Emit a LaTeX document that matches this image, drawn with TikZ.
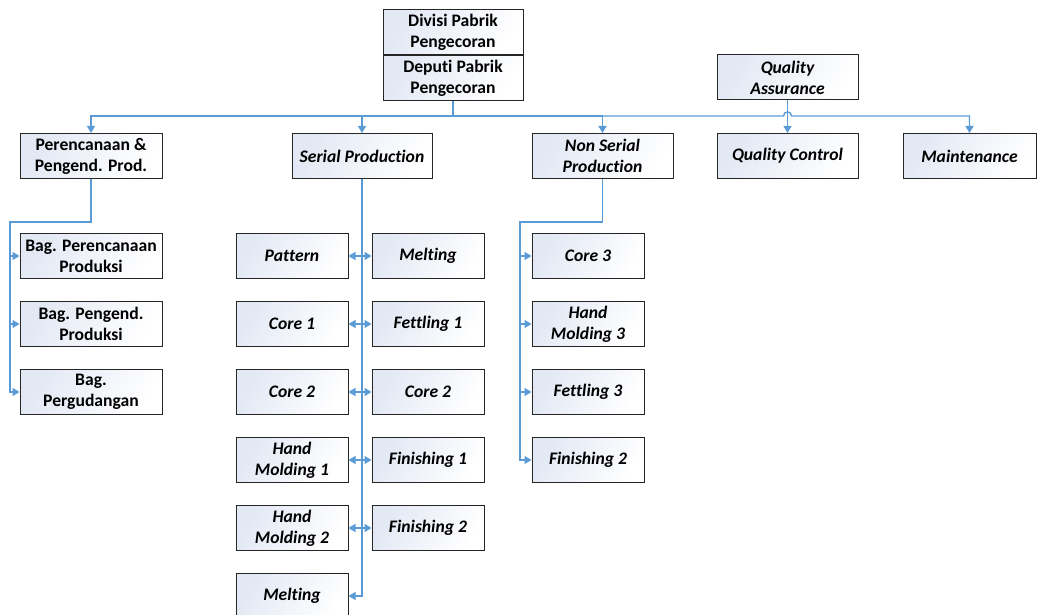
\documentclass[tikz,border=0pt]{standalone}
\usepackage{fontspec}
\setmainfont{Carlito}[Ligatures=NoCommon]
\usepackage{xcolor}
\usetikzlibrary{arrows.meta, positioning}

\definecolor{linkblue}{HTML}{5B9BD5}
\definecolor{boxfill}{HTML}{E2E8F4}

\begin{document}
\begin{tikzpicture}[
    x=1pt, y=-1pt,
    node distance=22pt and 23pt,
    unit/.style={draw=black!85, line width=1pt, rectangle, align=center,
        minimum width=141pt, minimum height=45pt, inner sep=1pt,
        left color=boxfill, right color=white, shading angle=60,
        font=\fontsize{17.6}{21}\selectfont\bfseries},
    sub/.style={unit, minimum width=112pt, font=\fontsize{17.6}{21}\selectfont\bfseries\itshape},
    ital/.style={unit, font=\fontsize{17.6}{21}\selectfont\bfseries\itshape},
    link/.style={draw=linkblue, line width=1.4pt},
    arr/.style={link, -{Triangle[length=7pt, width=8pt]}},
    biarr/.style={link, {Triangle[length=7pt, width=8pt]}-{Triangle[length=7pt, width=8pt]}}
]
    \useasboundingbox (0,0) rectangle (1038,615);

    % Top level
    \node[unit, minimum width=140pt] (divisi) at (453,32.5) {Divisi Pabrik\\Pengecoran};
    \node[unit, minimum width=140pt, below=0pt of divisi] (deputi) {Deputi Pabrik\\Pengecoran};
    \node[ital] (qa) at (787.5,77.5) {Quality\\Assurance};

    % Departments
    \node[unit, minimum width=142pt] (perenc) at (91,156) {Perencanaan \&\\Pengend. Prod.};
    \node[ital, minimum width=140pt] (serial) at (362,156) {Serial Production};
    \node[ital] (nonserial) at (602.5,156) {Non Serial\\Production};
    \node[ital] (qc) at (787.5,156) {Quality Control};
    \node[ital, minimum width=133pt] (maint) at (969.5,156) {Maintenance};

    % Perencanaan sections
    \node[unit, minimum width=142pt] (bagrenc) at (91,256) {Bag. Perencanaan\\Produksi};
    \node[unit, minimum width=142pt, below=of bagrenc] (bagdal) {Bag. Pengend.\\Produksi};
    \node[unit, minimum width=142pt, below=of bagdal] (baggudang) {Bag.\\Pergudangan};

    % Serial production, left column
    \node[sub] (pattern) at (292,256) {Pattern};
    \node[sub, below=of pattern] (core1) {Core 1};
    \node[sub, below=of core1] (core2a) {Core 2};
    \node[sub, below=of core2a] (hmold1) {Hand\\Molding 1};
    \node[sub, below=of hmold1] (hmold2) {Hand\\Molding 2};
    \node[sub, below=of hmold2] (meltb) {Melting};

    % Serial production, right column
    \node[sub, right=of pattern] (melta) {Melting};
    \node[sub, right=of core1] (fettl1) {Fettling 1};
    \node[sub, right=of core2a] (core2b) {Core 2};
    \node[sub, right=of hmold1] (fin1) {Finishing 1};
    \node[sub, right=of hmold2] (fin2a) {Finishing 2};

    % Non serial production
    \node[sub] (core3) at (588,256) {Core 3};
    \node[sub, below=of core3] (hmold3) {Hand\\Molding 3};
    \node[sub, below=of hmold3] (fettl3) {Fettling 3};
    \node[sub, below=of fettl3] (fin2b) {Finishing 2};

    % Bus under the deputy
    \coordinate (bus) at (453,116);
    \draw[link] (deputi.south) -- (bus);
    \draw[arr] (bus) -| (perenc.north);
    \draw[arr] (bus) -| (serial.north);
    \draw[arr] (bus) -| (nonserial.north);
    \draw[arr] (bus) -- (783.5,116) .. controls (783.5,110.5) and (791.5,110.5) .. (791.5,116) -| (maint.north);
    \draw[arr] (qa.south) -- (qc.north);

    % Perencanaan branch
    \coordinate (pl) at (10,222);
    \draw[link] (perenc.south) |- (pl) -- (pl |- bagdal.west);
    \draw[arr] (pl |- bagdal.west) |- (baggudang.west);
    \foreach \n in {bagrenc, bagdal}
        \draw[arr] (pl |- \n.west) -- (\n.west);

    % Serial branch
    \draw[arr] (serial.south) |- (meltb.east);
    \foreach \l/\r in {pattern/melta, core1/fettl1, core2a/core2b, hmold1/fin1, hmold2/fin2a} {
        \draw[arr] (serial.south |- \l.east) -- (\l.east);
        \draw[arr] (serial.south |- \r.west) -- (\r.west);
    }

    % Non serial branch
    \coordinate (nl) at (520,222);
    \draw[link] (nonserial.south) |- (nl) -- (nl |- fettl3.west);
    \draw[arr] (nl |- fettl3.west) |- (fin2b.west);
    \foreach \n in {core3, hmold3, fettl3}
        \draw[arr] (nl |- \n.west) -- (\n.west);

\end{tikzpicture}
\end{document}
